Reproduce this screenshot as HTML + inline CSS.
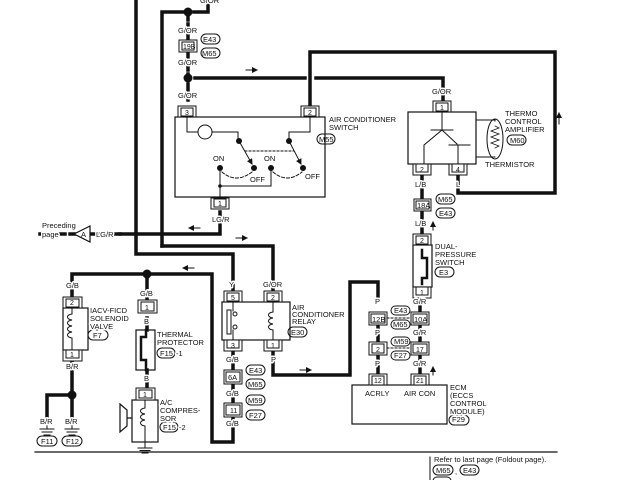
<!DOCTYPE html>
<html><head><style>
html,body{margin:0;padding:0;background:#fff;}
svg{display:block;}
text{font-family:"Liberation Sans",sans-serif;font-size:7.5px;fill:#111;paint-order:stroke;stroke:#fff;stroke-width:3px;stroke-linejoin:round;}
text[font-size],.t{stroke:none;}
.t{font-size:7px;}
</style></head><body>
<svg width="640" height="480" viewBox="0 0 640 480" xmlns="http://www.w3.org/2000/svg">
<defs>
<marker id="ah" markerWidth="6" markerHeight="6" refX="5" refY="3" orient="auto"><path d="M0,0 L6,3 L0,6 z" fill="#111"/></marker>
</defs>
<g fill="none" stroke="#111" stroke-linecap="square">
<g stroke-width="3.5">
<path d="M136,0 V254 H233 V292"/>
<path d="M162,246 V12 H186"/>
<path d="M162,246 H273 V292"/>
<path d="M194,12 H208 V0"/>
<path d="M195,78 H305"/>
<path d="M316,78 H443 V102"/>
<path d="M310,106 V52 H555 V193 H458 V176"/>
<path d="M120,234 H220 V212"/>
<path d="M273,350 V375 H350 V282 H378 V296"/>
<path d="M72,298 V274 H212 V442 H233 V416"/>
<path d="M72,356 V416"/>
<path d="M72,395 H47 V416"/>
<path d="M147,279 V300"/>
<path d="M422,176 V198"/>
<path d="M422,212 V234"/>
<path d="M420,292 V312 M420,325 V342 M420,355 V374"/>
<path d="M378,325 V342 M378,355 V374"/>
<path d="M233,350 V370 M233,384 V403"/>
</g>
<path d="M188,14 V102" stroke-width="3.5" stroke-dasharray="6,4"/>
<path d="M40,234 H120" stroke-width="3.5" stroke-dasharray="10,5"/>
<rect x="175" y="117" width="150" height="80" stroke-width="1.2"/>
<path d="M187,117 V132 H198 M212,132 H238 V141" stroke-width="1"/>
<circle cx="205" cy="132" r="7" stroke-width="1"/>
<path d="M310,117 V132 H289 V141" stroke-width="1"/>
<path d="M239,141 L252,164" stroke-width="1" marker-end="url(#ah)"/>
<path d="M289,141 L301,164" stroke-width="1" marker-end="url(#ah)"/>
<path d="M245,151 H294" stroke-width="1" stroke-dasharray="2,2"/>
<path d="M220,168 V186 H271 V168 M220,186 V198" stroke-width="1"/>
<path d="M222,172 Q236,184 252,172" stroke-width="1" stroke-dasharray="3,2"/>
<path d="M273,172 Q287,184 302,172" stroke-width="1" stroke-dasharray="3,2"/>
<rect x="408" y="112" width="68" height="52" stroke-width="1.2"/>
<path d="M442,112 V130 M431,130 H453 M442,130 L424,145 V164 M442,130 L457,144 M449,145 H470 M458,145 V164 M476,120 H495 V121 M476,157 H495" stroke-width="1"/>
<ellipse cx="495" cy="139" rx="8" ry="20" stroke-width="1"/>
<path d="M495,126 l4,2 l-8,3 l8,3 l-8,3 l8,3 l-8,3 l8,3 l-4,2" stroke-width="0.8"/>
<rect x="413" y="245" width="19" height="42" stroke-width="1.2"/>
<path d="M422,250 V258 H427 V278 H422 V284" stroke-width="2.5"/>
<rect x="222" y="302" width="68" height="38" stroke-width="1.2"/>
<rect x="227" y="310" width="4" height="24" stroke-width="1"/>
<path d="M233,302 V311 M233,330 V340 M273,302 V312 M273,330 V340" stroke-width="1"/>
<circle cx="235" cy="314" r="2" stroke-width="1"/><circle cx="235" cy="327" r="2" stroke-width="1"/>
<path d="M273,312 c-6,1 -6,5 0,6 c-6,1 -6,5 0,6 c-6,1 -6,5 0,6" stroke-width="1"/>
<rect x="63" y="308" width="25" height="42" stroke-width="1.2"/>
<path d="M72,308 V314 c-6,1 -6,5 0,6 c-6,1 -6,5 0,6 c-6,1 -6,5 0,6 c-6,1 -6,5 0,6 V350" stroke-width="1"/>
<rect x="136" y="330" width="19" height="40" stroke-width="1.2"/>
<path d="M146,330 V337 H141 V360 H146 V370" stroke-width="2.5"/>
<path d="M147,318 V330 M147,370 V388" stroke-width="3.5"/>
<rect x="132" y="400" width="26" height="42" stroke-width="1.2"/>
<path d="M145,400 V408 c-6,1 -6,5 0,6 c-6,1 -6,5 0,6 c-6,1 -6,5 0,6 V442 V448" stroke-width="1"/>
<path d="M138,448 H152 M140,450.5 H150 M142,453 H148" stroke-width="1"/>
<path d="M132,418 H127 M120,404 L127,410 V426 L120,432 Z" stroke-width="1.2"/>
<path d="M47,425 V429 M40,429 H54 M42,432 H52 M44,435 H50 M72,425 V429 M65,429 H79 M67,432 H77 M69,435 H75" stroke-width="1"/>
<rect x="352" y="385" width="95" height="39" stroke-width="1.2"/>
<path d="M35,452 H557" stroke-width="1.2"/>
<path d="M430,457 V480" stroke-width="1"/>
<path d="M90,226 L74,234 L90,242 Z" stroke-width="1.2" fill="#fff"/>
<g stroke-width="1" marker-end="url(#ah)">
<path d="M246,70 H257"/><path d="M200,228 H189"/><path d="M236,238 H247"/>
<path d="M559,124 V113"/><path d="M433,230 V222"/><path d="M194,268 H183"/>
<path d="M300,370 H311"/><path d="M433,375 V367"/>
</g>
<g stroke-width="1" fill="#fff">
<rect x="179" y="40" width="18" height="12"/><rect x="182" y="42" width="12" height="8"/>
<rect x="178" y="106" width="18" height="11"/><rect x="181" y="108" width="12" height="8"/>
<rect x="301" y="106" width="18" height="11"/><rect x="304" y="108" width="12" height="8"/>
<rect x="211" y="198" width="18" height="11"/><rect x="214" y="199" width="12" height="8"/>
<rect x="433" y="101" width="18" height="11"/><rect x="436" y="103" width="12" height="8"/>
<rect x="413" y="164" width="18" height="11"/><rect x="416" y="164" width="12" height="8"/>
<rect x="449" y="164" width="18" height="11"/><rect x="452" y="164" width="12" height="8"/>
<rect x="414" y="199" width="17" height="12"/><rect x="416" y="201" width="13" height="8"/>
<rect x="413" y="234" width="18" height="11"/><rect x="416" y="236" width="12" height="8"/>
<rect x="413" y="287" width="18" height="11"/><rect x="416" y="287" width="12" height="8"/>
<rect x="369" y="312" width="18" height="13"/><rect x="371" y="314" width="14" height="9"/>
<rect x="411" y="312" width="18" height="13"/><rect x="413" y="314" width="14" height="9"/>
<rect x="369" y="342" width="18" height="13"/><rect x="372" y="344" width="12" height="9"/>
<rect x="411" y="342" width="18" height="13"/><rect x="413" y="344" width="14" height="9"/>
<rect x="369" y="374" width="18" height="11"/><rect x="372" y="376" width="12" height="9"/>
<rect x="411" y="374" width="18" height="11"/><rect x="414" y="376" width="12" height="9"/>
<rect x="224" y="291" width="18" height="11"/><rect x="227" y="293" width="12" height="8"/>
<rect x="264" y="291" width="18" height="11"/><rect x="267" y="293" width="12" height="8"/>
<rect x="224" y="340" width="18" height="11"/><rect x="227" y="340" width="12" height="8"/>
<rect x="264" y="340" width="18" height="11"/><rect x="267" y="340" width="12" height="8"/>
<rect x="224" y="370" width="18" height="14"/><rect x="226" y="372" width="14" height="10"/>
<rect x="224" y="403" width="18" height="14"/><rect x="226" y="405" width="14" height="10"/>
<rect x="63" y="297" width="19" height="11"/><rect x="66" y="299" width="13" height="8"/>
<rect x="63" y="350" width="19" height="11"/><rect x="66" y="350" width="13" height="8"/>
<rect x="138" y="300" width="19" height="13"/><rect x="141" y="302" width="13" height="9"/>
<rect x="136" y="388" width="19" height="12"/><rect x="139" y="390" width="13" height="8"/>
</g>
<g stroke-width="1">
<path d="M387,318 H411 M387,348 H411" stroke-dasharray="2,2"/>
<rect x="201" y="34" width="19" height="10" rx="5"/><rect x="201" y="48" width="19" height="10" rx="5"/>
<rect x="317" y="134" width="18" height="10" rx="5"/>
<rect x="507" y="135" width="19" height="10" rx="5"/>
<rect x="436" y="194" width="19" height="10" rx="5"/><rect x="436" y="208" width="19" height="10" rx="5"/>
<rect x="435" y="267" width="19" height="10" rx="5"/>
<rect x="391" y="306" width="19" height="9" rx="4.5" fill="#fff"/><rect x="391" y="320" width="19" height="9" rx="4.5" fill="#fff"/>
<rect x="391" y="337" width="19" height="9" rx="4.5" fill="#fff"/><rect x="391" y="351" width="19" height="9" rx="4.5" fill="#fff"/>
<rect x="449" y="415" width="20" height="10" rx="5"/>
<rect x="288" y="327" width="19" height="10" rx="5"/>
<rect x="246" y="365" width="19" height="10" rx="5"/><rect x="246" y="379" width="19" height="10" rx="5"/>
<rect x="246" y="395" width="19" height="10" rx="5"/><rect x="246" y="410" width="19" height="10" rx="5"/>
<rect x="88" y="330" width="20" height="10" rx="5"/>
<rect x="157" y="348" width="18" height="10" rx="5"/><rect x="160" y="422" width="18" height="10" rx="5"/>
<rect x="37" y="436" width="20" height="10" rx="5"/><rect x="62" y="436" width="20" height="10" rx="5"/>
<rect x="433" y="465" width="20" height="10" rx="5"/><rect x="460" y="465" width="19" height="10" rx="5"/>
<rect x="433" y="477" width="18" height="8" rx="4"/>
</g>
</g>
<g fill="#111">
<circle cx="188" cy="12" r="4.5"/><circle cx="188" cy="78" r="4.5"/>
<circle cx="147" cy="274" r="4.5"/><circle cx="72" cy="395" r="4.5"/>
<circle cx="239" cy="141" r="3"/><circle cx="289" cy="141" r="3"/>
<circle cx="220" cy="168" r="3"/><circle cx="271" cy="168" r="3"/>
<circle cx="254" cy="168" r="3"/><circle cx="303" cy="168" r="3"/>
<circle cx="220" cy="186" r="1.8"/>
</g>
<g>
<text x="200" y="3">G/OR</text>
<text x="178" y="33">G/OR</text><text x="178" y="65">G/OR</text><text x="178" y="98">G/OR</text>
<text x="183" y="49" class="t" font-size="6">19B</text>
<text x="203" y="42" font-size="6">E43</text><text x="202" y="56" font-size="6">M65</text>
<text x="185" y="115" class="t">3</text><text x="308" y="115" class="t">2</text>
<text x="218" y="206" class="t">1</text>
<text x="212" y="222">LG/R</text>
<text x="213" y="161">ON</text><text x="264" y="161">ON</text>
<text x="250" y="182">OFF</text><text x="305" y="179">OFF</text>
<text x="329" y="122">AIR CONDITIONER</text><text x="329" y="130">SWITCH</text>
<text x="319" y="142" font-size="6">M55</text>
<text x="42" y="228">Preceding</text><text x="42" y="237">page</text>
<text x="81" y="237" font-size="7">A</text><text x="96" y="237">LG/R</text>
<text x="432" y="94">G/OR</text><text x="440" y="110" class="t">1</text>
<text x="505" y="116">THERMO</text><text x="505" y="124">CONTROL</text><text x="505" y="132">AMPLIFIER</text>
<text x="510" y="143" font-size="6">M60</text><text x="485" y="167">THERMISTOR</text>
<text x="420" y="172" class="t">2</text><text x="456" y="172" class="t">4</text>
<text x="415" y="187">L/B</text><text x="456" y="187">L</text>
<text x="417" y="208" font-size="6">18A</text>
<text x="438" y="202" font-size="6">M65</text><text x="439" y="216" font-size="6">E43</text>
<text x="415" y="226">L/B</text>
<text x="420" y="243" class="t">2</text><text x="420" y="295" class="t">1</text>
<text x="435" y="249">DUAL-</text><text x="435" y="257">PRESSURE</text><text x="435" y="265">SWITCH</text>
<text x="439" y="275" font-size="6">E3</text>
<text x="375" y="304">P</text><text x="413" y="304">G/R</text>
<text x="372" y="322" font-size="6.5">12B</text><text x="414" y="322" font-size="6.5">10A</text>
<text x="394" y="313" font-size="6">E43</text><text x="393" y="327" font-size="6">M65</text>
<text x="375" y="335">P</text><text x="413" y="335">G/R</text>
<text x="376" y="352" class="t">2</text><text x="416" y="352" class="t">17</text>
<text x="394" y="344" font-size="6">M59</text><text x="394" y="358" font-size="6">F27</text>
<text x="375" y="366">P</text><text x="413" y="366">G/R</text>
<text x="374" y="383" class="t">12</text><text x="416" y="383" class="t">21</text>
<text x="365" y="396">ACRLY</text><text x="404" y="396">AIR CON</text>
<text x="450" y="390">ECM</text><text x="450" y="398">(ECCS</text><text x="450" y="406">CONTROL</text><text x="450" y="414">MODULE)</text>
<text x="452" y="422" font-size="6">F29</text>
<text x="229" y="287">Y</text><text x="263" y="287">G/OR</text>
<text x="231" y="300" class="t">5</text><text x="271" y="300" class="t">2</text>
<text x="231" y="348" class="t">3</text><text x="271" y="348" class="t">1</text>
<text x="292" y="310">AIR</text><text x="292" y="317">CONDITIONER</text><text x="292" y="324">RELAY</text>
<text x="291" y="335" font-size="6">E30</text>
<text x="226" y="362">G/B</text><text x="271" y="362">P</text>
<text x="228" y="380" font-size="6.5">6A</text>
<text x="249" y="373" font-size="6">E43</text><text x="248" y="387" font-size="6">M65</text>
<text x="226" y="396">G/B</text>
<text x="230" y="413" class="t">11</text>
<text x="248" y="403" font-size="6">M59</text><text x="249" y="418" font-size="6">F27</text>
<text x="226" y="426">G/B</text>
<text x="66" y="288">G/B</text><text x="70" y="305" class="t">2</text><text x="70" y="357" class="t">1</text>
<text x="90" y="313">IACV-FICD</text><text x="90" y="321">SOLENOID</text><text x="90" y="329">VALVE</text>
<text x="93" y="338" font-size="6">F7</text>
<text x="66" y="369">B/R</text>
<text x="40" y="424">B/R</text><text x="65" y="424">B/R</text>
<text x="41" y="444" font-size="6">F11</text><text x="66" y="444" font-size="6">F12</text>
<text x="140" y="296">G/B</text><text x="145" y="310" class="t">1</text>
<text x="144" y="324">B</text>
<text x="157" y="337">THERMAL</text><text x="157" y="345">PROTECTOR</text>
<text x="160" y="356" font-size="6">F15</text><text x="176" y="356">-1</text>
<text x="144" y="381">B</text><text x="143" y="397" class="t">1</text>
<text x="160" y="405">A/C</text><text x="160" y="413">COMPRES-</text><text x="160" y="421">SOR</text>
<text x="163" y="430" font-size="6">F15</text><text x="179" y="430">-2</text>
<text x="434" y="462">Refer to last page (Foldout page).</text>
<text x="436" y="473" font-size="6">M65</text><text x="455" y="474">,</text><text x="463" y="473" font-size="6">E43</text>
</g>
</svg>
</body></html>
